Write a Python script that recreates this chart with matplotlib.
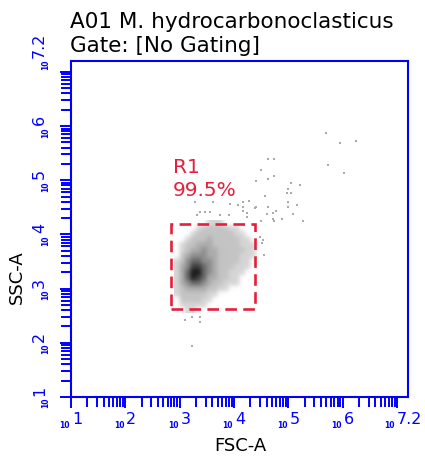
import numpy as np
import matplotlib
matplotlib.use("Agg")
import matplotlib.pyplot as plt
from matplotlib.transforms import offset_copy
from matplotlib.patches import Rectangle

# ---------------- data (log10 units) ----------------
title_lines = ["A01 M. hydrocarbonoclasticus", "Gate: [No Gating]"]
x_label = "FSC-A"
y_label = "SSC-A"
axis_min, axis_max = 1.0, 7.2
major_decades = [1, 2, 3, 4, 5, 6]
last_label = "7.2"

# density levels (0 = empty ... 7 = darkest), rows from top (high SSC) to bottom
density_rows = [
    "00000011100000000",
    "00001222221100000",
    "00012222222110000",
    "00122232222211000",
    "01223332222211100",
    "01233433222221100",
    "02344433222211100",
    "12455443222211000",
    "13466543222111000",
    "13577543221110000",
    "13576533221100000",
    "13455432211100000",
    "12333322110000000",
    "12222211000000000",
    "02222110000000000",
    "01111100000000000",
    "00110000000000000",
]
density_x_range = (2.89, 4.595)
density_y_range = (2.55, 4.256)
level_gray = [255, 214, 196, 172, 142, 105, 62, 25]

# sparse events outside the dense cloud (log10 FSC, log10 SSC)
outlier_x = [5.70, 5.95, 6.25, 5.73, 6.03, 4.63, 4.74, 4.49, 4.74, 4.63, 4.41, 5.04,
             5.22, 5.00, 4.97, 5.04, 4.56, 4.27, 4.16, 5.00, 5.15, 4.63, 5.00, 4.41,
             4.38, 4.16, 4.16, 4.71, 4.78, 4.23, 4.60, 5.08, 4.23, 4.71, 4.89, 4.74,
             5.26, 4.49, 3.28, 3.62, 3.93, 4.08, 3.38, 3.47, 3.56, 3.32, 3.74, 3.90,
             4.39, 3.09, 3.23, 3.38, 3.38, 3.23, 4.52, 4.55, 4.47, 4.54]
outlier_y = [5.88, 5.69, 5.73, 5.29, 5.14, 5.40, 5.40, 5.18, 5.07, 5.03, 4.99, 4.95,
             4.92, 4.84, 4.77, 4.77, 4.70, 4.62, 4.60, 4.59, 4.55, 4.51, 4.51, 4.51,
             4.48, 4.51, 4.44, 4.40, 4.44, 4.40, 4.37, 4.37, 4.33, 4.29, 4.29, 4.25,
             4.25, 4.25, 4.60, 4.60, 4.57, 4.54, 4.41, 4.41, 4.41, 4.35, 4.35, 4.35,
             4.48, 2.43, 2.47, 2.47, 2.38, 1.95, 3.85, 3.62, 3.95, 3.89]

gate_name = "R1"
gate_pct = "99.5%"
gate_x = (2.84, 4.39)
gate_y = (2.62, 4.20)

# ---------------- styles ----------------
BLUE = "#0000ff"
RED = "#e51f3c"
W, H = 425, 457

fig = plt.figure(figsize=(W / 100, H / 100), dpi=100)
ax = fig.add_axes([71 / W, (H - 397) / H, 337 / W, 336 / H])
ax.set_xlim(axis_min, axis_max)
ax.set_ylim(axis_min, axis_max)

# density image
lev = np.array([[int(c) for c in r] for r in density_rows])
rgba = np.zeros(lev.shape + (4,))
for k, g in enumerate(level_gray):
    m = lev == k
    rgba[m, 0:3] = g / 255.0
    rgba[m, 3] = 0.0 if k == 0 else 1.0
rgba[lev == 0, 0:3] = level_gray[1] / 255.0
ax.imshow(rgba, extent=(density_x_range[0], density_x_range[1],
                        density_y_range[0], density_y_range[1]),
          origin="upper", interpolation="gaussian", aspect="auto", zorder=2)

ax.scatter(outlier_x, outlier_y, s=3.5, marker="s", color="#aaaaaa",
           linewidths=0, zorder=3)

# gate
ax.add_patch(Rectangle((gate_x[0], gate_y[0]), gate_x[1] - gate_x[0],
                       gate_y[1] - gate_y[0], fill=False, edgecolor=RED,
                       linewidth=1.9, linestyle=(0, (4.4, 2.4)), zorder=4))
ax.annotate(gate_name, xy=(gate_x[0], gate_y[1]), xytext=(2, 51),
            textcoords="offset pixels", color=RED, fontsize=14.5,
            ha="left", va="baseline")
ax.annotate(gate_pct, xy=(gate_x[0], gate_y[1]), xytext=(2, 28),
            textcoords="offset pixels", color=RED, fontsize=14.5,
            ha="left", va="baseline")

# spines & ticks
for s in ax.spines.values():
    s.set_color(BLUE)
    s.set_linewidth(1.5)
majors = list(range(1, 8))
minors = [n + np.log10(k) for n in range(1, 8) for k in range(2, 10)
          if n + np.log10(k) < axis_max]
for axis in (ax.xaxis, ax.yaxis):
    axis.set_ticks(majors)
    axis.set_ticks(minors, minor=True)
    axis.set_ticklabels([])
ax.tick_params(which="major", direction="out", length=8, width=1.4, color=BLUE)
ax.tick_params(which="minor", direction="out", length=7, width=1.4, color=BLUE)

# custom tick labels
xt = ax.get_xaxis_transform()
yt = ax.get_yaxis_transform()
def xlab(xpos, exp, dx=0):
    ax.text(xpos, 0, exp, transform=offset_copy(xt, fig, x=1 + dx, y=-27, units="dots"),
            ha="left", va="baseline", color=BLUE, fontsize=11.5, clip_on=False)
    ax.text(xpos, 0, "10", transform=offset_copy(xt, fig, x=-1 + dx, y=-31, units="dots"),
            ha="right", va="baseline", color=BLUE, fontsize=5.5, fontweight="bold",
            clip_on=False)
def ylab(ypos, exp, dy=0):
    ax.text(0, ypos, exp, transform=offset_copy(yt, fig, x=-27, y=1 + dy, units="dots"),
            ha="left", va="baseline", rotation=90, rotation_mode="anchor",
            color=BLUE, fontsize=11.5, clip_on=False)
    ax.text(0, ypos, "10", transform=offset_copy(yt, fig, x=-23, y=-1 + dy, units="dots"),
            ha="right", va="baseline", rotation=90, rotation_mode="anchor",
            color=BLUE, fontsize=5.5, fontweight="bold", clip_on=False)
for d in major_decades:
    xlab(d, str(d))
    ylab(d, str(d))
xlab(axis_max, last_label, dx=-12)
ylab(axis_max, last_label, dy=2)

# axis titles
fig.text(240 / W, 1 - 446 / H, x_label, ha="center", va="center", fontsize=13)
fig.text(17 / W, 1 - 277 / H, y_label, ha="center", va="center", fontsize=13,
         rotation=90)

# title
fig.text(70 / W, 1 - 28 / H, title_lines[0], ha="left", va="baseline", fontsize=15.5)
fig.text(70 / W, 1 - 52 / H, title_lines[1], ha="left", va="baseline", fontsize=15.5)

fig.savefig("out.png", dpi=100)
